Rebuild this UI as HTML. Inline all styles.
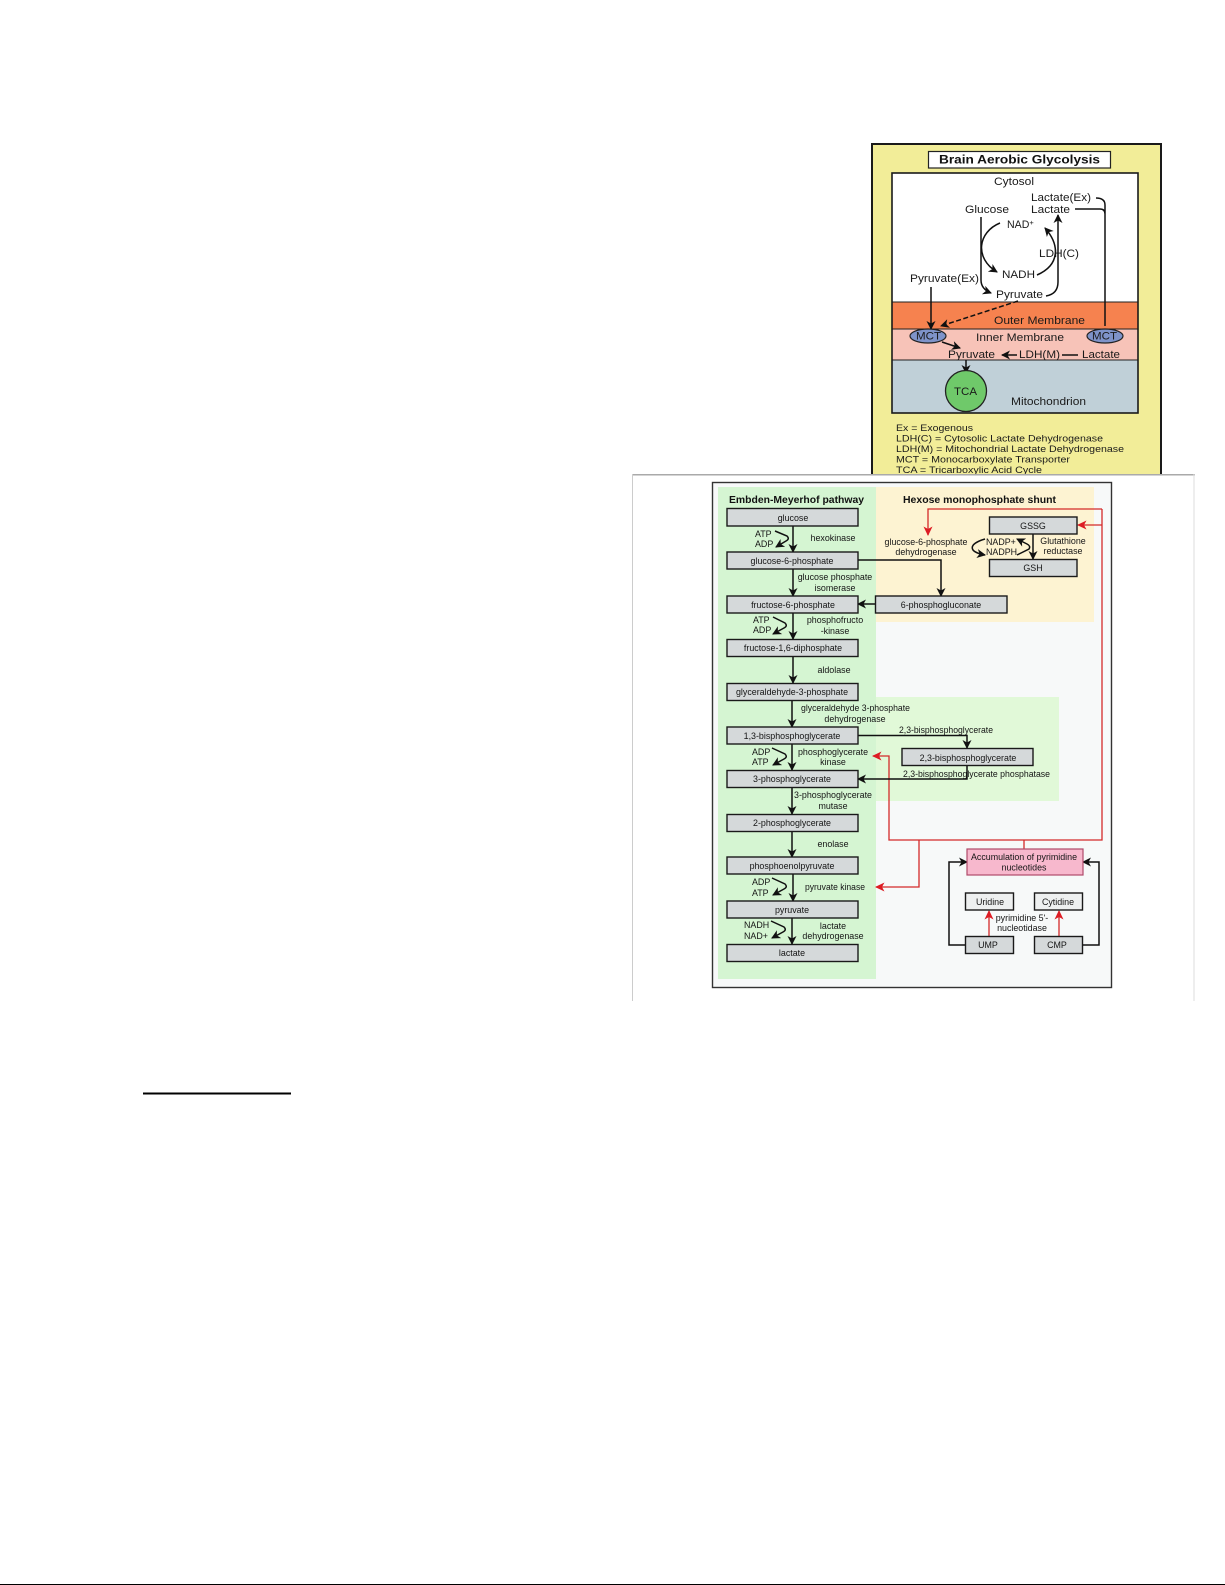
<!DOCTYPE html>
<html><head><meta charset="utf-8"><style>
html,body{margin:0;padding:0;background:#fff}
svg{display:block}
text{font-family:"Liberation Sans",Arial,sans-serif;fill:#151515}
.b{font-size:8.9px;text-anchor:middle}
.l{font-size:8.9px;text-anchor:middle}
.s{font-size:8.9px}
.p{font-size:10.6px;fill:#1a1a1a}
.g{font-size:9.6px;fill:#1a1a1a}
rect.bx{fill:#d5d9da;stroke:#1a1a1a;stroke-width:1.4}
.k{fill:none;stroke:#111;stroke-width:1.5}
.r{fill:none;stroke:#d42a2a;stroke-width:1.3}
</style></head><body>
<svg width="1225" height="1585" viewBox="0 0 1225 1585" xmlns="http://www.w3.org/2000/svg">
<defs>
<marker id="ak" markerWidth="10" markerHeight="10" refX="8" refY="4.5" orient="auto" markerUnits="userSpaceOnUse"><path d="M0,0 L9,4.5 L0,9 L2.5,4.5z" fill="#111"/></marker>
<marker id="ar" markerWidth="11" markerHeight="10" refX="8.5" refY="4.5" orient="auto" markerUnits="userSpaceOnUse"><path d="M0,0 L9.5,4.5 L0,9 L2.5,4.5z" fill="#dd1c24"/></marker>
</defs>
<rect width="1225" height="1585" fill="#fff"/>
<rect x="143" y="1092.5" width="148" height="2" fill="#000"/>
<rect x="0" y="1584" width="1225" height="1" fill="#000"/>

<!-- Top panel -->
<g style="filter:blur(.35px)">
<rect x="872" y="144" width="289" height="332" fill="#f2ed98" stroke="#1a1a1a" stroke-width="2"/>
<rect x="928.5" y="151.5" width="182" height="16.5" fill="#fff" stroke="#222" stroke-width="1.2"/>
<text x="939" y="163.5" font-size="12" font-weight="bold" style="fill:#111" textLength="161" lengthAdjust="spacingAndGlyphs">Brain Aerobic Glycolysis</text>
<rect x="892" y="173" width="246" height="240" fill="#fff"/>
<rect x="892" y="302" width="246" height="27" fill="#f6824f"/>
<rect x="892" y="329" width="246" height="31" fill="#f7c3b8"/>
<rect x="892" y="360" width="246" height="53" fill="#c0d0d8"/>
<path d="M892,302H1138M892,329H1138M892,360H1138" stroke="#222" stroke-width=".9"/>
<rect x="892" y="173" width="246" height="240" fill="none" stroke="#1a1a1a" stroke-width="1.6"/>
<path class="k" d="M1096,198 Q1105,198 1105,205 V326 M1075,209 H1100 Q1105,209 1105,214" />
<path class="k" d="M981,217 V280 Q981,289 991,293" marker-end="url(#ak)"/>
<path class="k" d="M1000,223 C978,232 974,258 997,272" marker-end="url(#ak)"/>
<path class="k" d="M1046,296 Q1058,294 1058,282 V215" marker-end="url(#ak)"/>
<path class="k" d="M1037,275 C1060,265 1060,245 1045,228" marker-end="url(#ak)"/>
<path class="k" d="M1018,301 L941,326" stroke-dasharray="5 2.5" marker-end="url(#ak)"/>
<path class="k" d="M931,287 V329" marker-end="url(#ak)"/>
<path class="k" d="M942,342 L960,348" marker-end="url(#ak)"/>
<path class="k" d="M1017,355 H1002" marker-end="url(#ak)"/>
<path class="k" d="M1062,355 H1078" />
<path class="k" d="M966,360 V373" marker-end="url(#ak)"/>
<ellipse cx="928" cy="336" rx="18" ry="7" fill="#7e93c9" stroke="#222" stroke-width="1.2"/>
<ellipse cx="1105" cy="336" rx="18" ry="7" fill="#7e93c9" stroke="#222" stroke-width="1.2"/>
<circle cx="966" cy="391" r="20.5" fill="#6fc96a" stroke="#222" stroke-width="1.3"/>
<text class="p" x="994" y="185" textLength="40" lengthAdjust="spacingAndGlyphs">Cytosol</text>
<text class="p" x="1031" y="201" textLength="60" lengthAdjust="spacingAndGlyphs">Lactate(Ex)</text>
<text class="p" x="1031" y="213" textLength="39" lengthAdjust="spacingAndGlyphs">Lactate</text>
<text class="p" x="965" y="213" textLength="44" lengthAdjust="spacingAndGlyphs">Glucose</text>
<text class="p" x="1007" y="228">NAD<tspan font-size="7.5" dy="-3">+</tspan></text>
<text class="p" x="1039" y="257" textLength="40" lengthAdjust="spacingAndGlyphs">LDH(C)</text>
<text class="p" x="1002" y="278" textLength="33" lengthAdjust="spacingAndGlyphs">NADH</text>
<text class="p" x="910" y="282" textLength="69" lengthAdjust="spacingAndGlyphs">Pyruvate(Ex)</text>
<text class="p" x="996" y="298" textLength="47" lengthAdjust="spacingAndGlyphs">Pyruvate</text>
<text class="p" x="994" y="324" textLength="91" lengthAdjust="spacingAndGlyphs">Outer Membrane</text>
<text class="p" x="976" y="341" textLength="88" lengthAdjust="spacingAndGlyphs">Inner Membrane</text>
<text class="p" x="948" y="358" textLength="47" lengthAdjust="spacingAndGlyphs">Pyruvate</text>
<text class="p" x="1019" y="358" textLength="41" lengthAdjust="spacingAndGlyphs">LDH(M)</text>
<text class="p" x="1082" y="358" textLength="38" lengthAdjust="spacingAndGlyphs">Lactate</text>
<text class="p" x="1011" y="405" textLength="75" lengthAdjust="spacingAndGlyphs">Mitochondrion</text>
<text class="p" x="916" y="339.5" textLength="25" lengthAdjust="spacingAndGlyphs">MCT</text>
<text class="p" x="1092" y="339.5" textLength="25" lengthAdjust="spacingAndGlyphs">MCT</text>
<text class="p" x="954" y="395" textLength="23" lengthAdjust="spacingAndGlyphs">TCA</text>
<text class="g" x="896" y="431" textLength="77" lengthAdjust="spacingAndGlyphs">Ex = Exogenous</text>
<text class="g" x="896" y="441.5" textLength="207" lengthAdjust="spacingAndGlyphs">LDH(C) = Cytosolic Lactate Dehydrogenase</text>
<text class="g" x="896" y="452" textLength="228" lengthAdjust="spacingAndGlyphs">LDH(M) = Mitochondrial Lactate Dehydrogenase</text>
<text class="g" x="896" y="462.5" textLength="174" lengthAdjust="spacingAndGlyphs">MCT = Monocarboxylate Transporter</text>
<text class="g" x="896" y="473" textLength="146" lengthAdjust="spacingAndGlyphs">TCA = Tricarboxylic Acid Cycle</text>
</g>

<!-- Lower figure -->
<rect x="632" y="475" width="562" height="526" fill="#fff"/>
<rect x="632" y="474" width="563" height="1.5" fill="#aaa"/>
<rect x="632" y="474" width="1" height="527" fill="#ccc"/>
<rect x="1193.5" y="474" width="1" height="527" fill="#ddd"/>
<g style="filter:blur(.35px)">
<rect x="712.5" y="482.5" width="399" height="505" fill="#f7f9f9" stroke="#333" stroke-width="1.4"/>
<rect x="876" y="487" width="218" height="135" fill="#fdf3d2"/>
<rect x="867" y="697" width="192" height="104" fill="#e1f9d8"/>
<rect x="718" y="487" width="158" height="492" fill="#d5f5d2"/>
<text x="729" y="503" font-size="10" font-weight="bold" textLength="135" lengthAdjust="spacingAndGlyphs" style="fill:#111">Embden-Meyerhof pathway</text>
<text x="903" y="503" font-size="10" font-weight="bold" textLength="153" lengthAdjust="spacingAndGlyphs" style="fill:#111">Hexose monophosphate shunt</text>

<!-- red lines -->
<path class="r" d="M1102,525 H1078" marker-end="url(#ar)"/>
<path class="r" d="M1102,509 H928 V535" marker-end="url(#ar)"/>
<path class="r" d="M1102,509 V840 H889 V756 H873" marker-end="url(#ar)"/>
<path class="r" d="M919,840 V887 H876" marker-end="url(#ar)"/>
<path class="r" d="M1024,840 V849"/>
<path class="r" d="M989,936 V911" marker-end="url(#ar)"/>
<path class="r" d="M1059,936 V911" marker-end="url(#ar)"/>

<!-- black connectors -->
<path class="k" d="M793,526 V552" marker-end="url(#ak)"/>
<path class="k" d="M793,569 V596" marker-end="url(#ak)"/>
<path class="k" d="M793,613 V639" marker-end="url(#ak)"/>
<path class="k" d="M793,657 V683" marker-end="url(#ak)"/>
<path class="k" d="M792,701 V727" marker-end="url(#ak)"/>
<path class="k" d="M792,744 V770" marker-end="url(#ak)"/>
<path class="k" d="M792,788 V814" marker-end="url(#ak)"/>
<path class="k" d="M792,832 V857" marker-end="url(#ak)"/>
<path class="k" d="M793,874 V901" marker-end="url(#ak)"/>
<path class="k" d="M792,918 V944" marker-end="url(#ak)"/>
<path class="k" d="M858,560 H941 V596" marker-end="url(#ak)"/>
<path class="k" d="M875,604 H858" marker-end="url(#ak)"/>
<path class="k" d="M858,735.5 H967 V748" marker-end="url(#ak)"/>
<path class="k" d="M967,766 V779 H858" marker-end="url(#ak)"/>
<path class="k" d="M1033,534 V559" marker-end="url(#ak)"/>
<path class="k" d="M965,945 H949 V862 H967" marker-end="url(#ak)"/>
<path class="k" d="M1083,945 H1099 V862 H1083" marker-end="url(#ak)"/>
<!-- side loops -->
<path class="k" d="M775,531 L787,536 Q790,539 786,541 L776,547" marker-end="url(#ak)"/>
<path class="k" d="M773,617 L785,623 Q788,626 784,628 L773,634" marker-end="url(#ak)"/>
<path class="k" d="M772,748 L785,754 Q788,757 784,759 L773,765" marker-end="url(#ak)"/>
<path class="k" d="M772,878 L785,884 Q788,887 784,889 L773,895" marker-end="url(#ak)"/>
<path class="k" d="M771,921 L784,927 Q787,930 783,932 L772,938" marker-end="url(#ak)"/>
<path class="k" d="M985,539 C968,544 968,552 985,555" marker-end="url(#ak)"/>
<path class="k" d="M1017,555 L1029,549 Q1031,546 1027,544 L1017,539" marker-end="url(#ak)"/>

<!-- boxes -->
<rect class="bx" x="727" y="508.5" width="131" height="17.5"/>
<rect class="bx" x="727" y="552" width="131" height="17"/>
<rect class="bx" x="727" y="596" width="131" height="17"/>
<rect class="bx" x="727" y="639.5" width="131" height="17"/>
<rect class="bx" x="727" y="683.5" width="131" height="17"/>
<rect class="bx" x="727" y="727" width="131" height="17"/>
<rect class="bx" x="727" y="770.5" width="131" height="17"/>
<rect class="bx" x="727" y="814.5" width="131" height="17"/>
<rect class="bx" x="727" y="857" width="131" height="17"/>
<rect class="bx" x="727" y="901" width="131" height="17"/>
<rect class="bx" x="727" y="944.5" width="131" height="17"/>
<rect class="bx" x="875.5" y="596" width="131.5" height="17"/>
<rect class="bx" x="989.5" y="517" width="87.5" height="17"/>
<rect class="bx" x="989.5" y="559.5" width="87.5" height="17"/>
<rect class="bx" x="902" y="748.5" width="131" height="17"/>
<rect x="967" y="849" width="116" height="26" fill="#f7b8cd" stroke="#b04a6a" stroke-width="1.2"/>
<rect class="bx" x="965.5" y="893" width="48" height="17" style="fill:#eef0f0"/>
<rect class="bx" x="1034.5" y="893" width="48" height="17" style="fill:#eef0f0"/>
<rect class="bx" x="965.5" y="936.5" width="48" height="17"/>
<rect class="bx" x="1034.5" y="936.5" width="48" height="17"/>

<!-- box labels -->
<text class="b" x="793" y="521">glucose</text>
<text class="b" x="792" y="564">glucose-6-phosphate</text>
<text class="b" x="793" y="608">fructose-6-phosphate</text>
<text class="b" x="793" y="651">fructose-1,6-diphosphate</text>
<text class="b" x="792" y="695">glyceraldehyde-3-phosphate</text>
<text class="b" x="792" y="739">1,3-bisphosphoglycerate</text>
<text class="b" x="792" y="782">3-phosphoglycerate</text>
<text class="b" x="792" y="826">2-phosphoglycerate</text>
<text class="b" x="792" y="869">phosphoenolpyruvate</text>
<text class="b" x="792" y="913">pyruvate</text>
<text class="b" x="792" y="956">lactate</text>
<text class="b" x="941" y="608">6-phosphogluconate</text>
<text class="b" x="1033" y="529">GSSG</text>
<text class="b" x="1033" y="571">GSH</text>
<text class="b" x="968" y="761">2,3-bisphosphoglycerate</text>
<text class="b" x="1024" y="860">Accumulation of pyrimidine</text>
<text class="b" x="1024" y="870.5">nucleotides</text>
<text class="b" x="990" y="905">Uridine</text>
<text class="b" x="1058" y="905">Cytidine</text>
<text class="b" x="988" y="948">UMP</text>
<text class="b" x="1057" y="948">CMP</text>

<!-- side labels -->
<text class="s" x="755" y="537">ATP</text><text class="s" x="755" y="547">ADP</text>
<text class="s" x="753" y="623">ATP</text><text class="s" x="753" y="633">ADP</text>
<text class="s" x="752" y="755">ADP</text><text class="s" x="752" y="765">ATP</text>
<text class="s" x="752" y="885">ADP</text><text class="s" x="752" y="896">ATP</text>
<text class="s" x="744" y="928">NADH</text><text class="s" x="744" y="939">NAD+</text>
<text class="l" x="833" y="541">hexokinase</text>
<text class="l" x="835" y="580">glucose phosphate</text>
<text class="l" x="835" y="591">isomerase</text>
<text class="l" x="835" y="623">phosphofructo</text>
<text class="l" x="835" y="634">-kinase</text>
<text class="l" x="834" y="673">aldolase</text>
<text class="s" x="801" y="711" textLength="109" lengthAdjust="spacingAndGlyphs">glyceraldehyde 3-phosphate</text>
<text class="l" x="855" y="722">dehydrogenase</text>
<text class="s" x="899" y="733" textLength="94" lengthAdjust="spacingAndGlyphs">2,3-bisphosphoglycerate</text>
<text class="l" x="833" y="755">phosphoglycerate</text>
<text class="l" x="833" y="765">kinase</text>
<text class="s" x="903" y="777" textLength="147" lengthAdjust="spacingAndGlyphs">2,3-bisphosphoglycerate phosphatase</text>
<text class="l" x="833" y="798">3-phosphoglycerate</text>
<text class="l" x="833" y="809">mutase</text>
<text class="l" x="833" y="847">enolase</text>
<text class="s" x="805" y="890" textLength="60" lengthAdjust="spacingAndGlyphs">pyruvate kinase</text>
<text class="l" x="833" y="929">lactate</text>
<text class="l" x="833" y="939">dehydrogenase</text>
<text class="l" x="926" y="545">glucose-6-phosphate</text>
<text class="l" x="926" y="555">dehydrogenase</text>
<text class="s" x="986" y="545">NADP+</text>
<text class="s" x="986" y="555">NADPH</text>
<text class="l" x="1063" y="544">Glutathione</text>
<text class="l" x="1063" y="554">reductase</text>
<text class="l" x="1022" y="921">pyrimidine 5'-</text>
<text class="l" x="1022" y="931">nucleotidase</text>
</g>
</svg>
</body></html>
